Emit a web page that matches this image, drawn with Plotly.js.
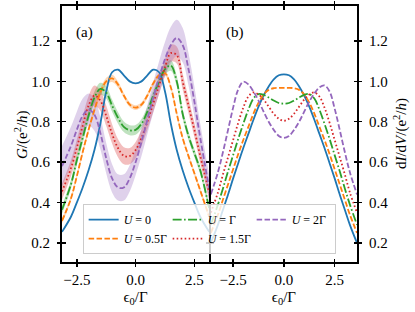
<!DOCTYPE html>
<html><head><meta charset="utf-8">
<script src="https://cdn.plot.ly/plotly-3.0.1.min.js"></script>
<style>html,body{margin:0;padding:0;background:#fff}#chart{width:415px;height:312px}</style>
</head><body><div id="chart"></div>
<script>
// Panel (a): G vs eps0/Gamma
const xA = [-3.13,-2.75,-2.5,-2.25,-2.0,-1.75,-1.5,-1.25,-1.0,-0.75,-0.5,-0.25,0,0.25,0.5,0.75,1.0,1.25,1.5,1.75,2.0,2.25,2.5,2.75,3.13];
const gA_U0   = [0.255,0.33,0.4,0.475,0.56,0.66,0.79,0.95,1.045,1.058,1.03,1.0,0.99,1.0,1.03,1.058,1.045,0.95,0.79,0.66,0.56,0.475,0.4,0.33,0.255];
const gA_U05  = [0.31,0.42,0.53,0.65,0.76,0.86,0.945,1.0,1.015,0.985,0.93,0.885,0.87,0.885,0.93,0.99,1.03,1.04,0.97,0.84,0.72,0.63,0.545,0.46,0.33];
const gA_U1   = [0.365,0.49,0.61,0.72,0.83,0.92,0.963,0.945,0.88,0.82,0.775,0.758,0.76,0.79,0.85,0.93,1.0,1.06,1.078,1.0,0.84,0.73,0.645,0.56,0.37];
const gA_U15  = [0.455,0.57,0.67,0.78,0.88,0.93,0.905,0.83,0.74,0.67,0.632,0.63,0.66,0.72,0.8,0.89,0.98,1.07,1.14,1.13,1.0,0.88,0.76,0.63,0.45];
const gA_U2   = [0.58,0.68,0.76,0.83,0.86,0.835,0.745,0.62,0.52,0.475,0.475,0.52,0.6,0.7,0.81,0.92,1.02,1.11,1.18,1.215,1.18,1.06,0.9,0.72,0.47];
const errA_U05 = [0.012,0.012,0.012,0.014,0.016,0.018,0.018,0.018,0.018,0.015,0.012,0.012,0.012,0.012,0.012,0.012,0.012,0.012,0.012,0.012,0.012,0.012,0.012,0.012,0.012];
const errA_U1  = [0.02,0.022,0.024,0.026,0.028,0.03,0.03,0.03,0.03,0.028,0.026,0.025,0.024,0.024,0.025,0.026,0.026,0.026,0.026,0.026,0.024,0.022,0.02,0.02,0.02];
const errA_U15 = [0.04,0.04,0.042,0.045,0.048,0.05,0.05,0.05,0.048,0.045,0.042,0.04,0.04,0.04,0.04,0.042,0.042,0.042,0.042,0.042,0.04,0.038,0.036,0.035,0.035];
const errA_U2  = [0.1,0.095,0.09,0.085,0.08,0.08,0.08,0.075,0.07,0.065,0.065,0.065,0.065,0.07,0.07,0.075,0.08,0.085,0.09,0.09,0.085,0.08,0.075,0.07,0.065];

// Panel (b): dI/dV vs eps0/Gamma
const xB = [-3.6,-3.25,-3.0,-2.75,-2.5,-2.25,-2.0,-1.75,-1.5,-1.25,-1.0,-0.75,-0.5,-0.25,0,0.25,0.5,0.75,1.0,1.25,1.5,1.75,2.0,2.25,2.5,2.75,3.0,3.25,3.6];
const gB_U0  = [0.2,0.29,0.365,0.44,0.52,0.595,0.67,0.74,0.81,0.875,0.93,0.975,1.01,1.03,1.035,1.03,1.01,0.975,0.93,0.875,0.81,0.74,0.67,0.595,0.52,0.44,0.365,0.29,0.2];
const gB_U05 = [0.25,0.34,0.415,0.49,0.565,0.64,0.71,0.775,0.84,0.895,0.935,0.958,0.966,0.968,0.968,0.968,0.966,0.958,0.935,0.895,0.84,0.775,0.71,0.64,0.565,0.49,0.415,0.34,0.25];
const gB_U1  = [0.29,0.39,0.47,0.555,0.635,0.715,0.79,0.86,0.915,0.937,0.933,0.92,0.905,0.893,0.89,0.893,0.905,0.92,0.933,0.937,0.915,0.86,0.79,0.715,0.635,0.555,0.47,0.39,0.29];
const gB_U15 = [0.35,0.45,0.54,0.625,0.71,0.795,0.87,0.925,0.945,0.935,0.91,0.875,0.84,0.815,0.805,0.815,0.84,0.875,0.91,0.935,0.945,0.925,0.87,0.795,0.71,0.625,0.54,0.45,0.35];
const gB_U2  = [0.44,0.55,0.65,0.76,0.87,0.96,0.998,0.985,0.95,0.905,0.85,0.8,0.76,0.73,0.72,0.73,0.76,0.8,0.85,0.9,0.94,0.97,0.98,0.95,0.865,0.76,0.65,0.55,0.44];

const xTicks = [-2.5,0,2.5];
const xTickText = ['−2.5','0.0','2.5'];
const yTicks = [0.2,0.4,0.6,0.8,1.0,1.2];
const yTickText = ['0.2','0.4','0.6','0.8','1.0','1.2'];
const names = ['<i>U</i> = 0','<i>U</i> = 0.5Γ','<i>U</i> = Γ','<i>U</i> = 1.5Γ','<i>U</i> = 2Γ'];
const ranks = [1,4,2,5,3];
const legendWidths = [39,39,39,39,38];
const xTitle = 'ϵ<sub>0</sub>/Γ';
const yTitleA = '<i>G</i>/(e<sup>2</sup>/<i>h</i>)';
const yTitleB = 'd<i>I</i>/d<i>V</i>/(e<sup>2</sup>/<i>h</i>)';

const colors = ['#1f77b4','#ff7f0e','#2ca02c','#d62728','#9467bd'];
const bandColors = ['rgba(31,119,180,0.3)','rgba(255,127,14,0.3)','rgba(44,160,44,0.3)','rgba(214,39,40,0.3)','rgba(148,103,189,0.3)'];
const dashes = ['solid','5.5px,2.4px','9px,2.4px,1.6px,2.4px','1.6px,2.4px','5.5px,2.4px'];

const seriesA = [gA_U0,gA_U05,gA_U1,gA_U15,gA_U2];
const errsA = [null,errA_U05,errA_U1,errA_U15,errA_U2];
const seriesB = [gB_U0,gB_U05,gB_U1,gB_U15,gB_U2];

const traces = [];
for (let i = 1; i < 5; i++) {
  const up = seriesA[i].map((v,k)=>v+errsA[i][k]);
  const lo = seriesA[i].map((v,k)=>v-errsA[i][k]);
  traces.push({x:xA,y:up,xaxis:'x',yaxis:'y',mode:'lines',line:{width:0,shape:'spline',smoothing:1},showlegend:false,hoverinfo:'skip'});
  traces.push({x:xA,y:lo,xaxis:'x',yaxis:'y',mode:'lines',line:{width:0,shape:'spline',smoothing:1},fill:'tonexty',fillcolor:bandColors[i],showlegend:false,hoverinfo:'skip'});
}
for (let i = 0; i < 5; i++) {
  traces.push({x:xA,y:seriesA[i],xaxis:'x',yaxis:'y',mode:'lines',name:names[i],legendrank:ranks[i],legendwidth:legendWidths[i],
    line:{color:colors[i],width:1.8,dash:dashes[i],shape:'spline',smoothing:1}});
}
for (let i = 0; i < 5; i++) {
  traces.push({x:xB,y:seriesB[i],xaxis:'x2',yaxis:'y2',mode:'lines',showlegend:false,
    line:{color:colors[i],width:1.8,dash:dashes[i],shape:'spline',smoothing:1}});
}
const dummy = (xa,ya)=>({x:[0],y:[0.5],xaxis:xa,yaxis:ya,mode:'markers',marker:{opacity:0},showlegend:false,hoverinfo:'skip'});
traces.push(dummy('x','y3'),dummy('x3','y'),dummy('x2','y4'),dummy('x4','y2'));

const F = '"Liberation Serif", "DejaVu Serif", serif';
const W = 295;
const endA = (209.2-62)/W, startB = (210.8-62)/W;
const yR = [0.106,1.373];
const xRA = [-3.13,3.13];
const xRB = [-3.6,3.6];
const baseAx = {showgrid:false,zeroline:false,ticks:'outside',ticklen:3.5,tickwidth:1.4,tickcolor:'#000',
  showline:true,linecolor:'#000',linewidth:1.6,mirror:'ticks',tickfont:{family:F,size:15,color:'#000'}};
const inAx = {showgrid:false,zeroline:false,ticks:'inside',ticklen:3.5,tickwidth:1.4,tickcolor:'#000',
  showline:false,mirror:'ticks',showticklabels:false};
const annFont = {family:F,size:15,color:'#000'};

const layout = {
  width:415,height:312,margin:{l:62,r:58,t:6,b:50},
  paper_bgcolor:'#fff',plot_bgcolor:'#fff',
  font:{family:F,size:15,color:'#000'},
  showlegend:true,
  xaxis:Object.assign({},baseAx,{domain:[0,endA],range:xRA,tickvals:xTicks,ticktext:xTickText,anchor:'y',
    title:{text:xTitle,font:{family:F,size:15},standoff:4}}),
  xaxis2:Object.assign({},baseAx,{domain:[startB,1],range:xRB,tickvals:xTicks,ticktext:xTickText,anchor:'y2',
    title:{text:xTitle,font:{family:F,size:15},standoff:4}}),
  yaxis:Object.assign({},baseAx,{range:yR,tickvals:yTicks,ticktext:yTickText,anchor:'x',ticklabelstandoff:4}),
  yaxis2:Object.assign({},baseAx,{range:yR,tickvals:yTicks,ticktext:yTickText,anchor:'x2',side:'right',ticklabelstandoff:4}),
  yaxis3:Object.assign({},inAx,{overlaying:'y',anchor:'x',range:yR,tickvals:yTicks}),
  xaxis3:Object.assign({},inAx,{overlaying:'x',anchor:'y',range:xRA,tickvals:xTicks}),
  yaxis4:Object.assign({},inAx,{overlaying:'y2',anchor:'x2',side:'right',range:yR,tickvals:yTicks}),
  xaxis4:Object.assign({},inAx,{overlaying:'x2',anchor:'y2',range:xRB,tickvals:xTicks}),
  legend:{orientation:'h',traceorder:'normal',x:0.07,xanchor:'left',y:0.031,yanchor:'bottom',
    bgcolor:'rgba(255,255,255,0.8)',bordercolor:'#cccccc',borderwidth:1,
    font:{family:F,size:12,color:'#000'},entrywidthmode:'pixels',tracegroupgap:0,itemwidth:30},
  annotations:[
    {text:'(a)',xref:'x domain',yref:'y domain',x:0.155,y:0.8955,xanchor:'center',yanchor:'middle',showarrow:false,font:annFont},
    {text:'(b)',xref:'x2 domain',yref:'y2 domain',x:0.163,y:0.8955,xanchor:'center',yanchor:'middle',showarrow:false,font:annFont},
    {text:yTitleA,xref:'paper',yref:'paper',x:-0.139,y:0.5,xanchor:'center',yanchor:'middle',textangle:-90,showarrow:false,font:annFont},
    {text:yTitleB,xref:'paper',yref:'paper',x:1.146,y:0.5,xanchor:'center',yanchor:'middle',textangle:-90,showarrow:false,font:annFont}
  ]
};
Plotly.newPlot('chart',traces,layout,{staticPlot:true,displayModeBar:false});
</script></body></html>
